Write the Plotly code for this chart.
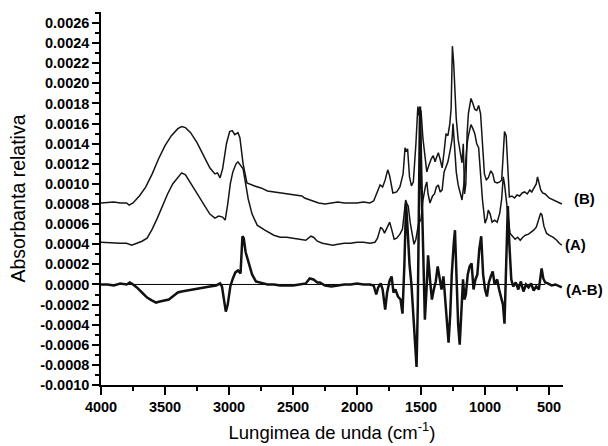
import plotly.graph_objects as go

# ---------------- data ----------------
wn_B = [4000, 3900, 3850, 3800, 3780, 3750, 3700, 3650, 3600, 3550, 3500, 3450, 3400, 3370, 3340,
        3300, 3250, 3200, 3150, 3110, 3090, 3070, 3050, 3020, 2995, 2975, 2955, 2930, 2915, 2890,
        2860, 2800, 2750, 2700, 2600, 2500, 2430, 2410, 2350, 2300, 2250, 2200, 2150, 2100, 2000,
        1950, 1900, 1870, 1840, 1820, 1800, 1780, 1760, 1745, 1720, 1690, 1665, 1640, 1625, 1615,
        1605, 1590, 1575, 1560, 1540, 1525, 1515, 1500, 1485, 1470, 1455, 1440, 1420, 1405, 1390,
        1380, 1365, 1350, 1335, 1320, 1305, 1290, 1275, 1265, 1255, 1245, 1235, 1225, 1210, 1195,
        1180, 1170, 1160, 1150, 1140, 1130, 1110, 1095, 1080, 1065, 1050, 1035, 1020, 1005, 990,
        975, 955, 940, 925, 905, 885, 870, 860, 848, 835, 825, 810, 790, 770, 750,
        730, 710, 690, 670, 650, 635, 620, 600, 590, 580, 565, 550, 530, 500, 470,
        440, 420, 400]
abs_B = [0.00081, 0.00082, 0.00081, 0.00081, 0.00079, 0.00081, 0.00088, 0.00097, 0.00110, 0.00125,
         0.00138, 0.00148, 0.00155, 0.00157, 0.00156, 0.00151, 0.00141, 0.00128, 0.00116, 0.00110,
         0.00111, 0.00106, 0.00115, 0.00140, 0.00152, 0.00153, 0.00149, 0.00151, 0.00146, 0.00120,
         0.00101, 0.00098, 0.00096, 0.00093, 0.00091, 0.00089, 0.00088, 0.00086, 0.00083, 0.00081,
         0.00080, 0.00081, 0.00082, 0.00081, 0.00081, 0.00082, 0.00081, 0.00083, 0.00093, 0.00099,
         0.00097, 0.00104, 0.00114, 0.00108, 0.00091, 0.00092, 0.00097, 0.00110, 0.00136, 0.00132,
         0.00135, 0.00107, 0.00098, 0.00102, 0.00140, 0.00177, 0.00168, 0.00173, 0.00145, 0.00125,
         0.00112, 0.00118, 0.00125, 0.00128, 0.00122, 0.00126, 0.00131, 0.00124, 0.00116, 0.00132,
         0.00150, 0.00148, 0.00160, 0.00175, 0.00237, 0.00220, 0.00195, 0.00165, 0.00144, 0.00130,
         0.00121, 0.00140, 0.00090, 0.00100, 0.00150, 0.00170, 0.00185, 0.00180, 0.00174, 0.00173,
         0.00178, 0.00170, 0.00135, 0.00110, 0.00104, 0.00106, 0.00113, 0.00110, 0.00102, 0.00101,
         0.00102, 0.00104, 0.00125, 0.00152, 0.00148, 0.00120, 0.00087, 0.00088, 0.00086, 0.00089,
         0.00088, 0.00091, 0.00092, 0.00090, 0.00094, 0.00092, 0.00095, 0.00100, 0.00107, 0.00102,
         0.00094, 0.00091, 0.00090, 0.00086, 0.00084, 0.00082, 0.00081, 0.00080]

wn_A = [4000, 3900, 3850, 3800, 3760, 3720, 3680, 3640, 3600, 3560, 3520, 3480, 3440, 3400, 3370,
        3340, 3300, 3260, 3220, 3180, 3150, 3110, 3080, 3050, 3030, 3010, 2990, 2970, 2945, 2930,
        2910, 2890, 2870, 2850, 2820, 2780, 2720, 2650, 2600, 2550, 2500, 2450, 2400, 2360, 2340,
        2310, 2270, 2230, 2190, 2150, 2100, 2050, 2000, 1950, 1900, 1860, 1840, 1815, 1800, 1785,
        1765, 1745, 1730, 1710, 1690, 1665, 1645, 1630, 1620, 1610, 1600, 1585, 1570, 1555, 1540,
        1520, 1500, 1485, 1465, 1455, 1445, 1430, 1410, 1395, 1380, 1365, 1350, 1335, 1320, 1305,
        1290, 1270, 1258, 1250, 1240, 1225, 1210, 1195, 1180, 1165, 1155, 1140, 1130, 1110, 1095,
        1080, 1065, 1050, 1035, 1020, 1000, 985, 975, 960, 945, 925, 905, 885, 870, 858,
        848, 835, 820, 805, 785, 765, 745, 725, 705, 685, 660, 640, 620, 600, 580,
        565, 555, 540, 520, 500, 470, 440, 420, 400]
abs_A = [0.00042, 0.00041, 0.00041, 0.00041, 0.00039, 0.00041, 0.00043, 0.00046, 0.00055, 0.00066,
         0.00078, 0.00090, 0.00100, 0.00107, 0.00111, 0.00109, 0.00101, 0.00092, 0.00084, 0.00076,
         0.00070, 0.00066, 0.00068, 0.00067, 0.00064, 0.00080, 0.00100, 0.00112, 0.00120, 0.00122,
         0.00118, 0.00115, 0.00100, 0.00085, 0.00070, 0.00059, 0.00054, 0.00049, 0.00047, 0.00047,
         0.00046, 0.00045, 0.00044, 0.00048, 0.00047, 0.00043, 0.00041, 0.00040, 0.00039, 0.00040,
         0.00041, 0.00041, 0.00042, 0.00042, 0.00041, 0.00042, 0.00046, 0.00057, 0.00055, 0.00051,
         0.00056, 0.00062, 0.00055, 0.00045, 0.00046, 0.00050, 0.00055, 0.00075, 0.00084, 0.00080,
         0.00078, 0.00062, 0.00050, 0.00040, 0.00045, 0.00060, 0.00065, 0.00084, 0.00098, 0.00102,
         0.00090, 0.00081, 0.00088, 0.00090, 0.00097, 0.00099, 0.00092, 0.00094, 0.00112, 0.00117,
         0.00122, 0.00135, 0.00144, 0.00160, 0.00140, 0.00112, 0.00099, 0.00092, 0.00084, 0.00100,
         0.00117, 0.00140, 0.00148, 0.00159, 0.00155, 0.00150, 0.00140, 0.00136, 0.00110, 0.00084,
         0.00061, 0.00066, 0.00074, 0.00070, 0.00062, 0.00064, 0.00062, 0.00071, 0.00085, 0.00107,
         0.00100, 0.00084, 0.00065, 0.00051, 0.00048, 0.00045, 0.00047, 0.00044, 0.00047, 0.00049,
         0.00050, 0.00052, 0.00054, 0.00057, 0.00064, 0.00071, 0.00069, 0.00058, 0.00051, 0.00049,
         0.00047, 0.00044, 0.00041, 0.00039]

wn_D = [4000, 3950, 3900, 3850, 3800, 3775, 3760, 3720, 3680, 3640, 3600, 3570, 3540, 3500, 3470,
        3440, 3400, 3370, 3330, 3290, 3250, 3200, 3150, 3100, 3070, 3055, 3040, 3025, 3010, 2990,
        2970, 2950, 2930, 2910, 2895, 2885, 2870, 2850, 2820, 2790, 2750, 2700, 2650, 2600, 2550,
        2500, 2450, 2400, 2370, 2340, 2310, 2290, 2250, 2200, 2150, 2100, 2050, 2000, 1950, 1900,
        1870, 1850, 1835, 1815, 1800, 1780, 1765, 1745, 1730, 1715, 1700, 1680, 1660, 1645, 1630,
        1617, 1605, 1590, 1575, 1560, 1545, 1535, 1525, 1515, 1508, 1498, 1485, 1470, 1455, 1445,
        1430, 1415, 1400, 1385, 1370, 1355, 1340, 1325, 1310, 1297, 1285, 1272, 1260, 1245, 1235,
        1222, 1210, 1198, 1185, 1172, 1160, 1150, 1135, 1120, 1105, 1090, 1075, 1060, 1045, 1030,
        1015, 1000, 985, 970, 955, 940, 925, 905, 890, 875, 860, 848, 835, 822, 810,
        795, 780, 760, 740, 720, 700, 680, 660, 640, 620, 600, 580, 570, 558, 545,
        530, 510, 480, 450, 420, 400]
abs_D = [0.00000, 0.00000, -0.00001, 0.00001, 0.00000, 0.00002, 0.00001, -0.00003, -0.00008, -0.00013,
         -0.00016, -0.00018, -0.00017, -0.00016, -0.00015, -0.00012, -0.00008, -0.00007, -0.00006, -0.00005,
         -0.00004, -0.00003, -0.00002, -0.00001, 0.00001, -0.00002, -0.00015, -0.00027, -0.00020, -0.00002,
         0.00006, 0.00012, 0.00014, 0.00011, 0.00048, 0.00046, 0.00032, 0.00022, 0.00010, 0.00003,
         0.00002, 0.00000, 0.00000, -0.00001, -0.00001, -0.00001, 0.00000, 0.00001, 0.00006, 0.00005,
         0.00002, 0.00002, -0.00001, -0.00002, -0.00001, 0.00000, 0.00000, 0.00001, 0.00000, 0.00000,
         -0.00001, -0.00010, -0.00003, 0.00001, -0.00005, -0.00025, -0.00008, 0.00004, 0.00008, -0.00008,
         -0.00005, -0.00012, -0.00015, -0.00029, 0.00020, 0.00081, 0.00055, 0.00020, 0.00000, -0.00030,
         -0.00060, -0.00082, -0.00020, 0.00120, 0.00177, 0.00110, 0.00051, -0.00035, 0.00000, 0.00029,
         0.00005, -0.00015, -0.00005, 0.00003, 0.00018, 0.00005, -0.00005, 0.00008, -0.00020, -0.00045,
         -0.00058, -0.00030, 0.00010, 0.00040, 0.00054, 0.00005, -0.00040, -0.00060, -0.00020, 0.00005,
         -0.00015, -0.00010, 0.00010, 0.00018, 0.00021, -0.00005, 0.00005, 0.00010, 0.00035, 0.00048,
         0.00010, -0.00005, -0.00012, 0.00002, 0.00008, 0.00013, 0.00000, 0.00005, -0.00005, -0.00012,
         -0.00020, -0.00039, 0.00030, 0.00078, 0.00040, 0.00005, -0.00002, 0.00002, -0.00005, 0.00003,
         -0.00007, 0.00000, -0.00003, 0.00001, -0.00006, -0.00002, -0.00005, 0.00005, 0.00016, 0.00006,
         0.00002, 0.00001, -0.00001, 0.00000, -0.00002, -0.00003]

series_labels = ["(B)", "(A)", "(A-B)"]
label_levels = [0.00086, 0.00040, -0.00005]
label_xpos = [1.02, 1.0, 1.003]

zero_line_wn = [4000, 530]
zero_line_val = [0.0, 0.0]

x_ticks = [4000, 3500, 3000, 2500, 2000, 1500, 1000, 500]
y_ticks = [round(-0.0010 + 0.0002 * i, 4) for i in range(19)]
y_tick_labels = ["%.4f" % (v if abs(v) > 1e-9 else 0.0) for v in y_ticks]

# ---------------- figure ----------------
fig = go.Figure()
fig.add_trace(go.Scatter(x=zero_line_wn, y=zero_line_val, mode="lines",
                         line=dict(color="black", width=1), hoverinfo="skip"))
fig.add_trace(go.Scatter(x=wn_B, y=abs_B, mode="lines", line=dict(color="#151515", width=1.5)))
fig.add_trace(go.Scatter(x=wn_A, y=abs_A, mode="lines", line=dict(color="#151515", width=1.5)))
fig.add_trace(go.Scatter(x=wn_D, y=abs_D, mode="lines", line=dict(color="#111111", width=2.5)))

for lab, lev, xp in zip(series_labels, label_levels, label_xpos):
    fig.add_annotation(text=lab, xref="paper", yref="y", x=xp, y=lev, xanchor="left",
                       yanchor="middle", showarrow=False,
                       font=dict(family="Liberation Sans, Arial", size=15, color="black", weight="bold"))

tickfont = dict(family="Liberation Sans, Arial", size=14.5, color="black", weight="bold")
fig.update_layout(
    width=608, height=446,
    margin=dict(l=101, r=45, t=12, b=61),
    paper_bgcolor="white", plot_bgcolor="white",
    showlegend=False,
    font=dict(family="Liberation Sans, Arial", color="black"),
    xaxis=dict(range=[4000, 391], tickmode="array", tickvals=x_ticks,
               ticktext=[str(v) for v in x_ticks], automargin=False,
               showgrid=False, zeroline=False, showline=True, linecolor="black", linewidth=1.5,
               ticks="outside", ticklen=8, tickwidth=1.5, tickcolor="black", tickfont=tickfont,
               minor=dict(tickmode="linear", tick0=0, dtick=250, ticks="outside", ticklen=4,
                          tickwidth=1.5, tickcolor="black"),
               title=dict(text="Lungimea de unda (cm<sup>-1</sup>)",
                          font=dict(size=18.5, color="black"), standoff=12)),
    yaxis=dict(range=[-0.0010, 0.00271], tickmode="array", tickvals=y_ticks, ticktext=y_tick_labels,
               automargin=False,
               showgrid=False, zeroline=False, showline=True, linecolor="black", linewidth=1.5,
               ticks="outside", ticklen=7, tickwidth=1.5, tickcolor="black", tickfont=tickfont,
               minor=dict(tickmode="linear", tick0=0, dtick=0.0001, ticks="outside", ticklen=4,
                          tickwidth=1.5, tickcolor="black"),
               title=dict(text="Absorbanta relativa", font=dict(size=19.5, color="black"), standoff=9)),
)

fig.write_html("out.html", config={"displayModeBar": False},
               post_script="document.body.style.margin='0';document.body.style.overflow='hidden';")
